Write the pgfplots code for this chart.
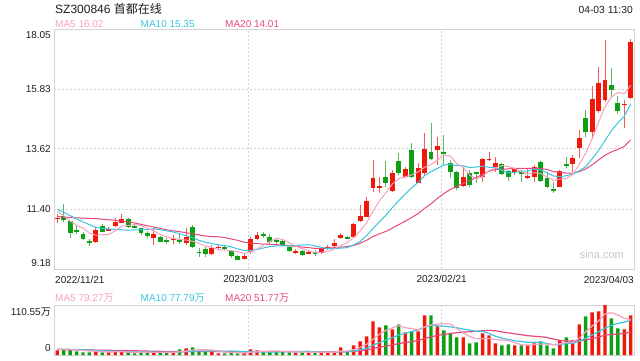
\documentclass[border=0pt]{standalone}
\usepackage{fontspec}
\setmainfont{Liberation Sans}
\newfontfamily\cjk{Noto Sans CJK SC}
\usepackage{pgfplots}
\usepackage{pgfplotstable}
\pgfplotsset{compat=1.18}
\definecolor{cred}{RGB}{240,24,10}
\definecolor{cgreen}{RGB}{14,160,20}
\definecolor{cma5}{RGB}{246,160,192}
\definecolor{cma10}{RGB}{60,196,224}
\definecolor{cma20}{RGB}{232,72,124}
\definecolor{cframe}{RGB}{212,212,212}
\definecolor{cgrid}{RGB}{212,212,212}
\definecolor{ctext}{RGB}{30,30,30}
\tikzset{lbl/.style={font=\fontsize{10}{12}\selectfont}}
% rising days (red)
\pgfplotstableread{
i o h l c v
0 11.05 11.20 10.87 11.07 10.3
6 10.19 10.74 10.15 10.62 9.6
8 10.59 10.73 10.58 10.66 5.9
9 10.78 11.05 10.74 10.93 7.4
10 10.89 11.20 10.87 11.03 7.4
15 10.31 10.68 10.07 10.47 7.4
18 10.27 10.44 10.09 10.28 5.9
20 10.13 10.68 10.07 10.38 14.7
24 9.73 10.07 9.70 9.97 8.8
25 9.97 10.07 9.91 9.99 3.7
29 9.56 9.76 9.54 9.66 4.4
30 9.80 10.38 9.72 10.29 12.5
31 10.29 10.56 10.25 10.44 10.3
37 9.81 9.91 9.72 9.83 5.9
39 9.77 9.88 9.72 9.79 5.9
41 9.78 9.97 9.72 9.91 5.9
42 9.95 10.07 9.88 9.98 5.9
43 10.04 10.28 10.00 10.13 7.4
44 10.31 10.50 10.28 10.44 17.0
46 10.38 10.87 10.35 10.84 21.4
47 10.97 11.55 10.93 11.14 30.2
48 11.11 11.83 11.09 11.71 41.3
49 12.16 13.21 12.04 12.54 74.4
50 12.16 12.57 12.00 12.25 61.2
52 12.06 12.84 12.04 12.74 56.7
54 12.59 12.96 12.53 12.88 50.1
56 12.37 13.09 12.35 12.90 52.3
57 12.72 14.19 12.65 13.61 87.7
59 13.58 14.07 13.02 13.74 63.4
63 12.25 12.90 12.20 12.59 39.0
66 12.57 13.27 12.41 13.23 47.9
67 13.22 13.52 13.18 13.24 43.5
68 12.96 13.33 12.78 13.09 25.8
71 12.78 12.90 12.65 12.86 21.4
73 12.53 12.90 12.52 12.61 21.4
74 12.57 13.02 12.41 12.94 25.8
78 12.22 12.84 12.20 12.81 32.4
80 13.06 13.39 12.78 13.27 32.4
81 13.66 14.32 13.27 14.01 67.8
83 14.26 15.94 14.07 15.46 94.3
84 15.02 16.66 14.93 16.04 96.5
85 15.43 17.64 15.36 16.17 110.55
88 15.26 15.43 14.38 15.28 56.7
89 15.49 17.68 15.46 17.58 87.7
}\updata
% falling days (green)
\pgfplotstableread{
i o h l c v
1 11.14 11.57 10.90 10.99 12.5
2 10.95 10.97 10.34 10.50 12.5
3 10.61 10.78 10.47 10.59 8.1
4 10.47 10.56 10.25 10.28 5.9
5 10.20 10.29 10.04 10.18 5.9
7 10.77 10.83 10.53 10.56 5.9
11 11.03 11.05 10.68 10.75 5.9
12 10.76 10.83 10.68 10.74 3.7
13 10.68 10.70 10.44 10.52 7.4
14 10.52 10.58 10.34 10.40 4.4
16 10.37 10.39 10.16 10.19 5.9
17 10.23 10.31 10.12 10.21 4.4
19 10.24 10.52 10.12 10.19 12.5
21 10.72 10.81 9.94 10.01 17.0
22 9.81 9.94 9.64 9.79 7.4
23 9.91 10.01 9.61 9.73 7.4
26 10.00 10.07 9.88 9.94 3.7
27 9.85 9.88 9.57 9.67 5.9
28 9.66 9.68 9.51 9.52 3.7
32 10.47 10.56 10.34 10.41 7.4
33 10.36 10.46 10.07 10.19 7.4
34 10.24 10.34 10.09 10.22 7.4
35 10.23 10.28 10.04 10.07 7.4
36 10.01 10.03 9.82 9.85 5.9
38 9.85 9.87 9.66 9.70 5.9
40 9.80 9.88 9.67 9.78 5.9
45 10.35 10.40 10.28 10.33 7.4
51 12.59 13.17 12.22 12.37 65.6
53 13.18 13.48 12.65 12.72 67.8
55 13.58 13.85 12.53 12.59 52.3
58 13.50 14.56 13.21 13.23 87.7
60 13.49 14.13 13.02 13.43 54.5
61 13.09 13.21 12.53 12.78 47.9
62 12.78 12.80 12.10 12.16 39.0
64 12.71 12.84 12.22 12.28 25.8
65 12.75 12.78 12.35 12.74 28.0
69 13.05 13.08 12.65 12.68 21.4
70 12.81 12.85 12.43 12.59 23.6
72 12.78 12.84 12.41 12.68 21.4
75 13.15 13.17 12.41 12.45 30.2
76 12.56 12.78 12.16 12.22 21.4
77 12.11 12.41 11.98 12.10 14.7
79 13.06 13.33 12.90 13.00 39.0
82 14.75 15.06 14.07 14.23 85.5
86 15.98 16.60 15.55 15.80 81.1
87 15.30 15.59 14.90 15.02 59.0
}\downdata
% moving averages (price and volume)
\pgfplotstableread{
i m5 m10 m20 vm5 vm10 vm20
0 11.30 11.38 11.12 13.0 13.0 12.0
1 11.15 11.28 11.10 12.5 12.8 11.8
2 10.95 11.15 11.08 12.0 12.5 11.6
3 10.80 11.03 11.07 11.0 12.0 11.4
4 10.69 10.92 11.06 9.86 11.5 11.2
5 10.51 10.82 11.05 8.98 11.0 11.0
6 10.43 10.72 11.04 8.40 10.0 10.8
7 10.45 10.68 11.02 7.08 9.2 10.6
8 10.46 10.66 11.00 6.64 8.8 10.4
9 10.59 10.64 10.98 6.94 8.40 10.2
10 10.76 10.63 10.95 7.24 8.11 10.0
11 10.79 10.61 10.92 6.50 7.45 9.7
12 10.82 10.63 10.88 6.06 6.57 9.4
13 10.79 10.63 10.83 6.36 6.50 9.0
14 10.69 10.64 10.78 5.76 6.35 8.7
15 10.58 10.67 10.73 5.76 6.50 8.4
16 10.46 10.63 10.68 5.76 6.13 8.1
17 10.36 10.59 10.63 5.90 5.98 7.8
18 10.31 10.55 10.59 5.60 5.98 7.6
19 10.27 10.48 10.56 7.22 6.49 7.45
20 10.25 10.41 10.52 8.68 7.22 7.67
21 10.21 10.34 10.48 10.90 8.33 7.89
22 10.13 10.24 10.44 11.50 8.70 7.64
23 10.02 10.17 10.40 11.80 8.70 7.60
24 9.98 10.12 10.38 11.06 9.14 7.75
25 9.90 10.07 10.37 8.86 8.77 7.64
26 9.88 10.05 10.34 6.20 8.55 7.34
27 9.86 10.00 10.29 5.90 8.70 7.34
28 9.82 9.92 10.24 5.16 8.48 7.23
29 9.76 9.87 10.17 4.28 7.67 7.08
30 9.82 9.86 10.14 6.04 7.45 7.34
31 9.92 9.90 10.12 7.36 6.78 7.56
32 10.06 9.96 10.10 7.66 6.78 7.74
33 10.20 10.01 10.09 8.40 6.78 7.74
34 10.31 10.03 10.08 9.00 6.64 7.89
35 10.27 10.04 10.06 7.98 7.01 7.89
36 10.15 10.03 10.04 7.10 7.23 7.89
37 10.03 10.05 10.02 6.80 7.23 7.97
38 9.93 10.07 9.99 6.50 7.45 7.97
39 9.85 10.08 9.97 6.20 7.60 7.64
40 9.79 10.03 9.94 5.90 6.94 7.20
41 9.80 9.98 9.94 5.90 6.50 6.64
42 9.83 9.93 9.95 5.90 6.35 6.57
43 9.92 9.93 9.97 6.20 6.35 6.57
44 10.05 9.95 9.99 8.42 7.31 6.98
45 10.16 9.97 10.01 8.72 7.31 7.16
46 10.34 10.07 10.05 11.82 8.86 8.05
47 10.58 10.20 10.13 16.68 11.29 9.26
48 10.89 10.41 10.24 23.46 14.83 11.14
49 11.31 10.68 10.38 34.94 21.68 14.64
50 11.70 10.93 10.48 45.70 27.21 17.08
51 12.00 11.17 10.57 54.54 33.18 19.84
52 12.32 11.45 10.69 59.84 38.26 22.31
53 12.52 11.71 10.82 65.14 44.30 25.33
54 12.59 11.95 10.95 60.28 47.61 27.46
55 12.66 12.18 11.08 58.50 52.10 29.71
56 12.77 12.38 11.23 55.84 55.19 32.03
57 12.94 12.63 11.42 62.04 60.94 36.12
58 13.04 12.78 11.59 66.02 65.58 40.21
59 13.21 12.90 11.79 68.68 64.48 43.08
60 13.38 13.02 11.97 69.12 63.81 45.51
61 13.36 13.06 12.12 68.24 62.04 47.61
62 13.07 13.00 12.23 58.50 60.27 49.27
63 12.94 12.99 12.35 48.76 57.39 50.85
64 12.65 12.93 12.44 41.24 54.96 51.29
65 12.51 12.95 12.56 35.94 52.53 52.32
66 12.60 12.98 12.68 35.94 52.09 53.64
67 12.82 12.94 12.79 36.84 47.67 54.31
68 12.92 12.93 12.86 34.20 41.48 53.53
69 13.00 12.82 12.86 33.32 37.28 50.88
70 12.97 12.74 12.88 32.44 34.19 49.00
71 12.89 12.75 12.90 27.14 31.54 46.79
72 12.78 12.80 12.90 22.72 29.78 45.03
73 12.68 12.80 12.90 21.84 28.02 42.71
74 12.74 12.87 12.90 22.72 28.02 41.49
75 12.71 12.84 12.89 24.04 28.24 40.39
76 12.58 12.74 12.86 24.04 25.59 38.84
77 12.46 12.62 12.78 22.70 22.71 35.19
78 12.50 12.59 12.76 24.90 23.37 32.43
79 12.52 12.63 12.72 27.54 25.13 31.21
80 12.68 12.69 12.72 27.98 26.01 30.10
81 13.04 12.81 12.78 37.26 30.65 31.10
82 13.46 12.96 12.88 51.42 37.06 33.42
83 13.99 13.25 13.03 63.80 44.35 36.19
84 14.60 13.56 13.21 75.30 51.42 39.72
85 15.18 13.93 13.38 90.93 59.46 43.85
86 15.54 14.29 13.51 93.59 65.43 45.51
87 15.70 14.58 13.60 88.29 69.86 46.28
88 15.66 14.83 13.71 80.77 72.29 47.83
89 15.97 15.29 13.96 79.01 77.16 51.14
}\madata
\pgfplotsset{
  candle/.style n args={2}{only marks, mark=*, mark size=0pt,
    mark options={draw=none, fill=none},
    error bars/.cd, y dir=both, y explicit, error mark=none,
    error bar style={line width=#1, #2, solid}}
}
\begin{document}
\begin{tikzpicture}
\path[use as bounding box] (0pt,0pt) rectangle (640pt,360pt);
% titles and legends
\node[anchor=base west, inner sep=0pt, text=ctext, font=\fontsize{12}{14}\selectfont] at (55pt,346.5pt) {SZ300846 {\cjk 首都在线}};
\node[anchor=base east, inner sep=0pt, text=ctext, font=\fontsize{10.3}{12}\selectfont] at (633pt,346.5pt) {04-03 11:30};
\node[anchor=base west, inner sep=0pt, text=cma5, lbl] at (55pt,332.5pt) {MA5 16.02};
\node[anchor=base west, inner sep=0pt, text=cma10, lbl] at (140.5pt,332.5pt) {MA10 15.35};
\node[anchor=base west, inner sep=0pt, text=cma20, lbl] at (225pt,332.5pt) {MA20 14.01};
\node[anchor=base west, inner sep=0pt, text=cma5, lbl] at (55pt,58.5pt) {MA5 79.27{\cjk 万}};
\node[anchor=base west, inner sep=0pt, text=cma10, lbl] at (140.5pt,58.5pt) {MA10 77.79{\cjk 万}};
\node[anchor=base west, inner sep=0pt, text=cma20, lbl] at (225pt,58.5pt) {MA20 51.77{\cjk 万}};
\node[anchor=base west, inner sep=0pt, text=ctext, lbl] at (55pt,77pt) {2022/11/21};
\node[anchor=base east, inner sep=0pt, text=ctext, lbl] at (634pt,77pt) {2023/04/03};
\begin{axis}[at={(54pt,91pt)}, anchor=south west, scale only axis,
  width=580pt, height=240pt,
  xmin=-0.5, xmax=89.5, ymin=9.18, ymax=18.05,
  axis line style={cframe},
  major tick length=0pt,
  ytick={9.40,11.40,13.62,15.83,17.83},
  yticklabels={9.18,11.40,13.62,15.83,18.05},
  yticklabel style={anchor=east, inner sep=0pt, xshift=-3pt, text=ctext, lbl},
  extra y ticks={11.40,13.62,15.83},
  extra y tick labels={},
  extra y tick style={grid=major},
  xtick={29.65,59.65},
  xticklabels={2023/01/03,2023/02/21},
  xticklabel style={anchor=north, inner sep=0pt, yshift=-6pt, text=ctext, lbl},
  xmajorgrids,
  grid style={cgrid, line width=0.8pt, dash pattern=on 2pt off 2pt},
]
\addplot[candle={1pt}{cred!70}] table[x=i, y expr={(\thisrow{h}+\thisrow{l})/2}, y error expr={(\thisrow{h}-\thisrow{l})/2}] {\updata};
\addplot[candle={1pt}{cgreen!70}] table[x=i, y expr={(\thisrow{h}+\thisrow{l})/2}, y error expr={(\thisrow{h}-\thisrow{l})/2}] {\downdata};
\addplot[candle={4.8pt}{cred}] table[x=i, y expr={(\thisrow{o}+\thisrow{c})/2}, y error expr={max(abs(\thisrow{c}-\thisrow{o})/2,0.018)}] {\updata};
\addplot[candle={4.8pt}{cgreen}] table[x=i, y expr={(\thisrow{o}+\thisrow{c})/2}, y error expr={max(abs(\thisrow{c}-\thisrow{o})/2,0.018)}] {\downdata};
\addplot[cma20, line width=1pt, mark=none] table[x=i, y=m20] {\madata};
\addplot[cma10, line width=1pt, mark=none] table[x=i, y=m10] {\madata};
\addplot[cma5, line width=1pt, mark=none] table[x=i, y=m5] {\madata};
\node[text=black!22, font=\fontsize{11}{13}\selectfont] at (axis cs:84.5,9.72) {sina.com};
\end{axis}
\begin{axis}[at={(54pt,5pt)}, anchor=south west, scale only axis,
  width=580pt, height=50pt,
  xmin=-0.5, xmax=89.5, ymin=0, ymax=110.55,
  axis line style={cframe},
  major tick length=0pt,
  ytick={15.5,95.0},
  yticklabels={0,110.55{\cjk 万}},
  yticklabel style={anchor=east, inner sep=0pt, xshift=-3pt, text=ctext, lbl},
  xtick={29.65,59.65},
  xticklabels={},
  xmajorgrids,
  grid style={cgrid, line width=0.8pt, dash pattern=on 2pt off 2pt},
]
\addplot[ybar, bar width=3.4pt, bar shift=0pt, fill=cred, draw=none] table[x=i, y=v] {\updata};
\addplot[ybar, bar width=3.4pt, bar shift=0pt, fill=cgreen, draw=none] table[x=i, y=v] {\downdata};
\addplot[cma20, line width=1.2pt, mark=none] table[x=i, y=vm20] {\madata};
\addplot[cma10, line width=1.2pt, mark=none] table[x=i, y=vm10] {\madata};
\addplot[cma5, line width=1.2pt, mark=none] table[x=i, y=vm5] {\madata};
\end{axis}
\end{tikzpicture}
\end{document}
